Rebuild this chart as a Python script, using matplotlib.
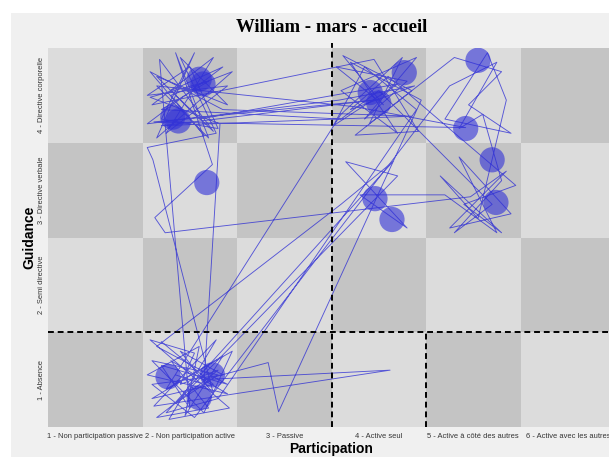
import matplotlib
matplotlib.use("Agg")
import matplotlib.pyplot as plt
import numpy as np
from matplotlib.colors import ListedColormap
from matplotlib.patches import Rectangle

title = "William - mars - accueil"
x_labels = ["1 - Non participation passive", "2 - Non participation active", "3 - Passive",
            "4 - Active seul", "5 - Active à côté des autres", "6 - Active avec les autres"]
y_labels = ["1 - Absence", "2 - Semi directive", "3 - Directive verbale", "4 - Directive corporelle"]

# trajectory (participation, guidance) with jitter inside cells
path_x = [1.70, 2.25, 1.60, 2.35, 1.95, 2.10, 1.55, 2.40, 1.80, 2.20, 1.65, 2.30, 1.90, 2.05,
          1.58, 2.42, 1.78, 2.28, 1.62,
          4.12, 2.15, 2.83, 2.94,
          4.45, 3.70, 4.20, 3.60, 4.40, 3.85, 4.30, 3.55, 4.05,
          3.62, 4.35, 3.75, 4.42, 3.95,
          1.60, 2.25, 1.75, 2.40, 1.55, 2.00, 2.30, 1.70,
          2.05, 1.65, 2.45, 1.80, 2.15, 1.58, 2.35,
          4.35, 1.70, 3.95, 1.62, 4.92, 3.75,
          1.65, 2.20, 1.85,
          2.24, 1.63, 1.74,
          4.97, 5.35, 4.75, 5.40, 4.85, 5.25, 4.70,
          3.80, 4.30, 3.65, 4.20,
          1.85, 2.30, 1.60, 2.15, 2.45, 1.75,
          3.60, 4.25, 3.90,
          4.80, 5.30, 4.95, 5.40, 4.70, 5.15, 5.35,
          5.05, 4.65, 5.30, 4.90, 5.45,
          4.10, 3.70, 4.38, 3.58,
          1.55, 2.35, 1.80, 2.25, 1.68,
          2.00, 1.70, 2.40, 1.65,
          3.60, 4.15,
          2.20, 1.75, 2.30,
          4.40, 3.85, 3.52, 4.20,
          2.10, 1.65, 2.40, 1.90, 2.28,
          1.55, 1.61,
          2.25, 1.90, 2.35, 1.60, 2.05,
          4.75, 5.25, 4.85, 5.10,
          5.30, 4.80, 5.20,
          4.00, 3.60,
          1.70, 2.20, 1.58, 2.32,
          2.15, 1.85]
path_y = [1.40, 0.95, 0.80, 1.25, 0.62, 1.35, 1.05, 0.85, 1.20, 0.70, 0.60, 1.10, 0.95, 1.28,
          1.42, 0.70, 0.58, 1.42, 0.72,
          1.10, 1.00, 1.18, 0.66,
          3.95, 4.35, 3.60, 4.05, 4.40, 3.75, 4.15, 4.30, 3.90,
          4.42, 4.05, 3.58, 3.62, 4.38,
          3.90, 4.40, 3.60, 4.10, 4.00, 4.30, 3.65, 3.75,
          4.45, 3.55, 4.25, 4.00, 3.58, 4.25, 3.85,
          3.78, 3.68, 3.95, 3.72, 3.66, 3.88,
          4.10, 3.55, 4.45,
          3.27, 2.71, 2.55,
          2.93, 3.20, 2.60, 2.75, 3.35, 2.55, 2.95,
          2.95, 2.60, 3.30, 3.15,
          0.75, 1.05, 1.20, 0.65, 1.30, 0.90,
          3.80, 4.40, 3.70,
          4.40, 4.25, 3.90, 3.60, 3.75, 4.45, 3.95,
          2.70, 3.15, 2.55, 2.85, 3.05,
          4.20, 3.85, 4.10, 3.95,
          3.70, 4.30, 4.05, 3.62, 4.38,
          0.70, 1.15, 0.95, 1.35,
          2.85, 3.30,
          1.15, 0.65, 0.80,
          3.85, 4.30, 3.68, 4.12,
          3.75, 4.20, 3.90, 4.40, 3.60,
          3.45, 3.32,
          0.85, 1.30, 1.05, 0.95, 0.60,
          4.10, 4.35, 3.65, 3.80,
          3.10, 2.55, 2.85,
          4.05, 3.75,
          3.85, 4.15, 3.98, 3.70,
          0.95, 1.05]

# highlighted points (circles)
circ_x = [2.10, 2.14, 1.82, 1.88, 2.18, 4.27, 3.91, 4.00, 5.05, 4.92, 5.20, 5.24, 3.96, 4.14, 1.77, 2.24, 2.10]
circ_y = [4.17, 4.12, 3.77, 3.73, 3.08, 4.24, 4.03, 3.92, 4.37, 3.65, 3.32, 2.87, 2.91, 2.69, 1.03, 1.05, 0.81]

fig = plt.figure(figsize=(6.09, 4.57), dpi=100)
fig.patch.set_facecolor("white")
bg = Rectangle((11/609, 0), 1, 1 - 13/457, transform=fig.transFigure,
               facecolor="#f0f0f0", edgecolor="none", zorder=-10)
fig.patches.append(bg)

ax = fig.add_axes([48/609, 1 - 427/457, 567/609, 379/457])
ax.set_zorder(1)
ax.set_facecolor("#f0f0f0")
for s in ax.spines.values():
    s.set_visible(False)

xs = np.arange(1, 7)
ys = np.arange(1, 5)
parity = (xs[None, :] + ys[:, None]) % 2
cmap = ListedColormap(["#c4c4c4", "#dcdcdc"])
ax.pcolormesh(np.arange(0.5, 7.0, 1.0), np.arange(0.5, 5.0, 1.0), parity, cmap=cmap,
              shading="flat", zorder=0)

ax.plot(path_x, path_y, color="#2828d4", lw=0.65, alpha=0.75, zorder=2)
ax.scatter(circ_x, circ_y, s=330, color="#3030d8", alpha=0.6, edgecolors="none", zorder=3)

dash = dict(color="black", lw=1.4, dashes=(3, 2), zorder=4, clip_on=False)
ax.plot([0.5, 6.5], [1.5, 1.5], **dash)
ax.plot([3.5, 3.5], [0.5, 4.55], **dash)
ax.plot([4.5, 4.5], [0.5, 1.5], **dash)

ax.set_xlim(0.5, 6.5)
ax.set_ylim(0.5, 4.5)
ax.set_xticks(xs)
ax.set_xticklabels(x_labels, fontsize=5.4, family="Liberation Sans", color="#333333")
ax.set_yticks(ys)
ax.set_yticklabels(y_labels, fontsize=5.4, family="Liberation Sans", color="#333333",
                   rotation=90, va="center")
ax.tick_params(axis="x", length=0, pad=4)
ax.tick_params(axis="y", length=0, pad=2)
ax.set_xlabel("Participation", fontsize=10, fontweight="bold", family="Liberation Sans", labelpad=2)
ax.set_ylabel("Guidance", fontsize=10, fontweight="bold", family="Liberation Sans", labelpad=1)

fig.text(332/609, 1 - 28/457, title, ha="center", va="center", fontsize=13.5,
         fontweight="bold", family="Liberation Serif")

fig.savefig("out.png", dpi=100, facecolor=fig.get_facecolor())
